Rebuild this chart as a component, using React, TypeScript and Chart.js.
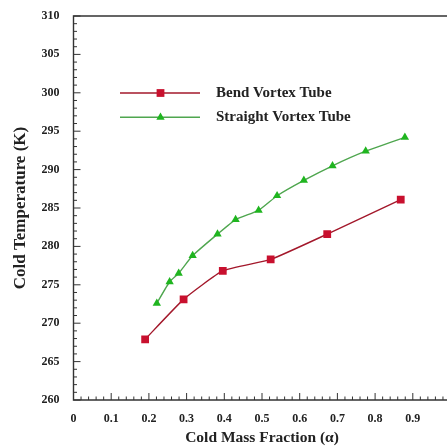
import React, { useEffect, useRef } from "react";
import { Chart, registerables } from "chart.js";

Chart.register(...registerables);

const seriesNames = ["Bend Vortex Tube", "Straight Vortex Tube"];
const bendX = [0.19, 0.292, 0.396, 0.523, 0.673, 0.868];
const bendY = [267.9, 273.1, 276.8, 278.3, 281.6, 286.1];
const straightX = [0.221, 0.255, 0.279, 0.316, 0.382, 0.43, 0.491, 0.54, 0.611, 0.687, 0.775, 0.879];
const straightY = [272.6, 275.4, 276.5, 278.8, 281.6, 283.5, 284.7, 286.6, 288.6, 290.5, 292.4, 294.2];
const xTickLabels = ["0", "0.1", "0.2", "0.3", "0.4", "0.5", "0.6", "0.7", "0.8", "0.9", ""];
const xTitle = "Cold Mass Fraction (α)";
const yTitle = "Cold Temperature (K)";

const FONT = '"Liberation Serif", "Times New Roman", serif';

const decorPlugin = {
  id: "decor",
  afterDraw(chart: any) {
    const ctx = chart.ctx;
    const { left, right, top, bottom } = chart.chartArea;
    const xs = chart.scales.x;
    const ys = chart.scales.y;
    ctx.save();
    ctx.strokeStyle = "#333";
    ctx.lineWidth = 1.4;
    ctx.beginPath();
    ctx.moveTo(left, top);
    ctx.lineTo(right, top);
    ctx.lineTo(right, bottom);
    ctx.lineTo(left, bottom);
    ctx.closePath();
    ctx.stroke();
    ctx.lineWidth = 1;
    ctx.beginPath();
    for (let i = 0; i <= 50; i++) {
      const v = i / 50;
      const px = xs.getPixelForValue(v);
      const len = i % 5 === 0 ? 7 : 3.5;
      ctx.moveTo(px, bottom);
      ctx.lineTo(px, bottom - len);
    }
    for (let v = 260; v <= 310; v++) {
      const py = ys.getPixelForValue(v);
      const len = v % 5 === 0 ? 7 : 3.5;
      ctx.moveTo(left, py);
      ctx.lineTo(left + len, py);
    }
    ctx.stroke();

    // axis titles
    ctx.fillStyle = "#222";
    ctx.font = `bold 15.5px ${FONT}`;
    ctx.textAlign = "center";
    ctx.textBaseline = "middle";
    ctx.fillText(xTitle, (left + right) / 2, 438);
    ctx.save();
    ctx.font = `bold 17px ${FONT}`;
    ctx.translate(21, (top + bottom) / 2);
    ctx.rotate(-Math.PI / 2);
    ctx.fillText(yTitle, 0, 0);
    ctx.restore();

    // legend
    const lx0 = 120, lx1 = 200, mx = 160.5, tx = 216;
    chart.data.datasets.forEach((ds: any, i: number) => {
      const ly = 93 + i * 24.3;
      ctx.strokeStyle = ds.borderColor;
      ctx.lineWidth = ds.borderWidth;
      ctx.beginPath();
      ctx.moveTo(lx0, ly);
      ctx.lineTo(lx1, ly);
      ctx.stroke();
      ctx.fillStyle = ds.pointBackgroundColor;
      ctx.beginPath();
      if (ds.pointStyle === "rect") {
        const s = ds.pointRadius * Math.SQRT1_2;
        ctx.rect(mx - s, ly - s, 2 * s, 2 * s);
      } else {
        const r = ds.pointRadius;
        ctx.moveTo(mx, ly - r);
        ctx.lineTo(mx + r * 0.866, ly + r * 0.5);
        ctx.lineTo(mx - r * 0.866, ly + r * 0.5);
        ctx.closePath();
      }
      ctx.fill();
      ctx.fillStyle = "#222";
      ctx.font = `bold 15px ${FONT}`;
      ctx.textAlign = "left";
      ctx.textBaseline = "middle";
      ctx.fillText(ds.label, tx, ly);
    });
    ctx.restore();
  },
};

export default function App() {
  const ref = useRef<HTMLCanvasElement | null>(null);
  useEffect(() => {
    document.body.style.overflow = "hidden";
    document.body.style.margin = "0";
    const canvas = ref.current!;
    const chart = new Chart(canvas, {
      type: "line",
      data: {
        datasets: [
          {
            label: seriesNames[0],
            data: bendX.map((x, i) => ({ x, y: bendY[i] })),
            borderColor: "#a3182b",
            borderWidth: 1.4,
            pointStyle: "rect",
            pointRadius: 5.5,
            pointBackgroundColor: "#c8102e",
            pointBorderColor: "#c8102e",
            pointBorderWidth: 0,
            tension: 0.15,
          },
          {
            label: seriesNames[1],
            data: straightX.map((x, i) => ({ x, y: straightY[i] })),
            borderColor: "#4fa64f",
            borderWidth: 1.4,
            pointStyle: "triangle",
            pointRadius: 4.8,
            pointBackgroundColor: "#1fb51f",
            pointBorderColor: "#1fb51f",
            pointBorderWidth: 0,
            tension: 0.15,
          },
        ],
      } as any,
      options: {
        animation: false,
        responsive: false,
        layout: { padding: { top: 16, right: 2.5, left: 0, bottom: 0 } },
        plugins: { legend: { display: false }, tooltip: { enabled: false } },
        scales: {
          x: {
            type: "linear",
            min: 0,
            max: 1,
            grid: { display: false },
            border: { display: false },
            ticks: {
              stepSize: 0.1,
              padding: 4,
              color: "#222",
              font: { family: FONT, size: 12, weight: "bold" },
              maxRotation: 0,
              autoSkip: false,
              callback: (v: any, i: number) => xTickLabels[i] ?? "",
            },
            afterFit: (s: any) => {
              s.height = 46;
            },
          },
          y: {
            type: "linear",
            min: 260,
            max: 310,
            grid: { display: false },
            border: { display: false },
            ticks: {
              stepSize: 5,
              padding: 6,
              color: "#222",
              font: { family: FONT, size: 12, weight: "bold" },
            },
            afterFit: (s: any) => {
              s.width = 73.5;
            },
          },
        },
      } as any,
      plugins: [decorPlugin],
    });
    return () => chart.destroy();
  }, []);
  return (
    <div style={{ position: "absolute", left: 0, top: 0, width: 456, height: 446 }}>
      <canvas ref={ref} width={456} height={446} />
    </div>
  );
}
